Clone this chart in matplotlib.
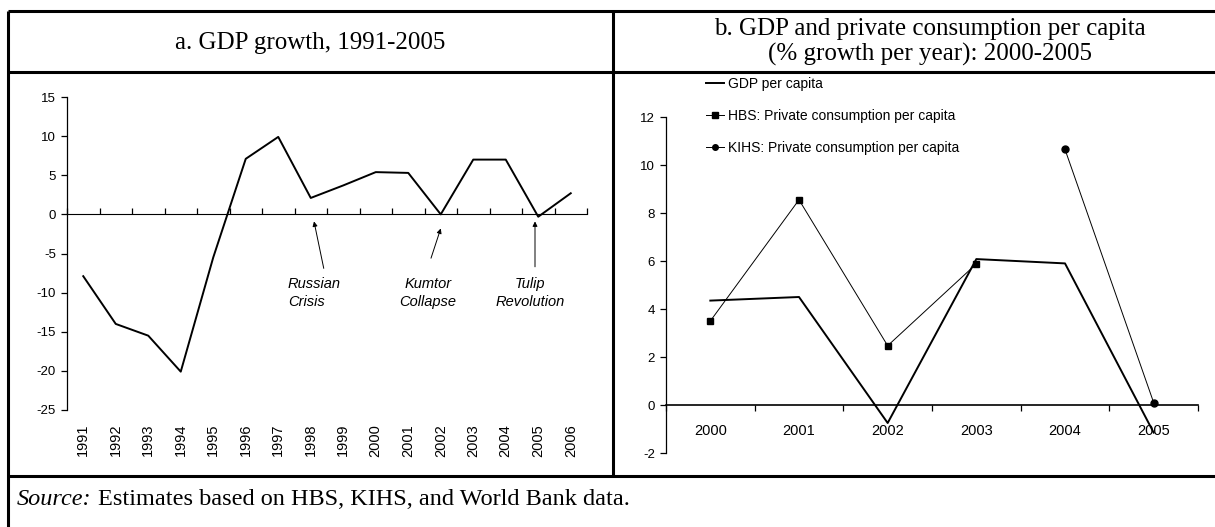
import matplotlib
matplotlib.use("Agg")
import matplotlib.pyplot as plt
from matplotlib.lines import Line2D

plt.rcParams["axes.unicode_minus"] = False

# data
years_a = [1991, 1992, 1993, 1994, 1995, 1996, 1997, 1998,
           1999, 2000, 2001, 2002, 2003, 2004, 2005, 2006]
gdp_growth = [-7.9, -14.0, -15.5, -20.1, -5.5, 7.1, 9.9, 2.1,
              3.7, 5.4, 5.3, 0.0, 7.0, 7.0, -0.3, 2.7]

years_b = [2000, 2001, 2002, 2003, 2004, 2005]
gdp_pc = [4.35, 4.5, -0.75, 6.08, 5.9, -1.15]
hbs_years = [2000, 2001, 2002, 2003]
hbs_cons = [3.5, 8.55, 2.47, 5.88]
kihs_years = [2004, 2005]
kihs_cons = [10.65, 0.1]

events = ["Russian\nCrisis", "Kumtor\nCollapse", "Tulip\nRevolution"]

W, H = 1215, 527
SANS = "Liberation Sans"
SERIF = "Liberation Serif"


def fx(x):
    return x / W


def fy(y):
    return 1 - y / H


def box(x0, y0, x1, y1):
    return [fx(x0), fy(y1), fx(x1) - fx(x0), fy(y0) - fy(y1)]


fig = plt.figure(figsize=(W / 100, H / 100), dpi=100)

# table frame
frame = dict(color="black", lw=2.2, transform=fig.transFigure, solid_capstyle="butt")
fig.add_artist(Line2D([fx(8), 1], [fy(11), fy(11)], **frame))
fig.add_artist(Line2D([fx(8), 1], [fy(72), fy(72)], **frame))
fig.add_artist(Line2D([fx(8), 1], [fy(476), fy(476)], **frame))
fig.add_artist(Line2D([fx(8), fx(8)], [fy(11), 0], **frame))
fig.add_artist(Line2D([fx(613), fx(613)], [fy(11), fy(476)], **frame))

fig.text(fx(310), fy(43), "a. GDP growth, 1991-2005", family=SERIF, fontsize=18,
         ha="center", va="center")
fig.text(fx(930), fy(42), "b. GDP and private consumption per capita\n(% growth per year): 2000-2005",
         family=SERIF, fontsize=18, ha="center", va="center", linespacing=1.22)
src = fig.text(fx(17), fy(510), "Source:", family=SERIF, fontsize=17.5, style="italic",
               ha="left", va="bottom")


def style_axes(ax, ymin, ymax, step, xlo, xhi):
    for s in ["top", "right", "bottom"]:
        ax.spines[s].set_visible(False)
    ax.spines["left"].set_linewidth(0.9)
    ax.set_ylim(ymin, ymax)
    ax.set_xlim(xlo, xhi)
    ax.set_yticks(range(ymin, ymax + 1, step))
    ax.tick_params(axis="y", direction="out", length=4, width=0.9, labelsize=9.5, pad=4)
    for lab in ax.get_yticklabels():
        lab.set_family(SANS)
    ax.patch.set_alpha(0)
    # zero axis with boundary ticks
    zero = ax.secondary_xaxis((0 - ymin) / (ymax - ymin))
    zero.spines["bottom"].set_linewidth(1.2)
    bounds = [xlo + i for i in range(int(round(xhi - xlo)) + 1)]
    zero.set_xticks(bounds, minor=True)
    zero.set_xticks([])
    zero.tick_params(which="minor", direction="out", length=4, width=0.9)
    return zero


# panel a
ax1 = fig.add_axes(box(67, 97, 587, 410))
style_axes(ax1, -25, 15, 5, years_a[0] - 0.5, years_a[-1] + 0.5)
ax1.plot(years_a, gdp_growth, color="black", lw=1.4)
ax1.set_xticks(years_a)
ax1.set_xticklabels([str(y) for y in years_a], rotation=90, family=SANS, fontsize=10.5)
ax1.tick_params(axis="x", length=0, pad=10)

ann = dict(family=SANS, style="italic", fontsize=10.5, va="center", linespacing=1.35)
arrow = dict(arrowstyle="-|>", color="black", lw=0.7, mutation_scale=7, shrinkA=0, shrinkB=0)
ax1.text(1997.3, -10.1, events[0], ha="left", **ann)
ax1.annotate("", xy=(1998.1, -0.9), xytext=(1998.4, -6.9), arrowprops=arrow)
ax1.text(2001.6, -10.1, events[1], ha="center", multialignment="center", **ann)
ax1.annotate("", xy=(2002.0, -1.8), xytext=(2001.7, -5.6), arrowprops=arrow)
ax1.text(2004.75, -10.1, events[2], ha="center", multialignment="center", **ann)
ax1.annotate("", xy=(2004.9, -0.9), xytext=(2004.9, -6.7), arrowprops=arrow)

# source line continues after the italic label
ax1.annotate("Estimates based on HBS, KIHS, and World Bank data.",
             xy=(1, 0), xycoords=src, xytext=(4.5, 0), textcoords="offset points",
             family=SERIF, fontsize=17.5, ha="left", va="bottom",
             annotation_clip=False)

# panel b
ax2 = fig.add_axes(box(666, 117, 1198, 453))
zero2 = style_axes(ax2, -2, 12, 2, years_b[0] - 0.5, years_b[-1] + 0.5)
ax2.set_xticks([])
zero2.set_xticks(years_b, [str(y) for y in years_b])
zero2.tick_params(which="major", length=0, pad=14, labelsize=10.5)
for lab in zero2.get_xticklabels():
    lab.set_family(SANS)
ax2.plot(years_b, gdp_pc, color="black", lw=1.4, label="GDP per capita")
ax2.plot(hbs_years, hbs_cons, color="black", lw=0.7, marker="s", markersize=5,
         label="HBS: Private consumption per capita")
ax2.plot(kihs_years, kihs_cons, color="black", lw=0.7, marker="o", markersize=5,
         label="KIHS: Private consumption per capita")
leg = ax2.legend(loc="upper left", bbox_to_anchor=(fx(706), fy(77)),
                 bbox_transform=fig.transFigure, frameon=False, borderpad=0,
                 borderaxespad=0, handlelength=1.3, handletextpad=0.3,
                 labelspacing=1.3, numpoints=1, prop={"family": SANS, "size": 10},
                 markerscale=0.8)

fig.savefig("out.png", dpi=100)
